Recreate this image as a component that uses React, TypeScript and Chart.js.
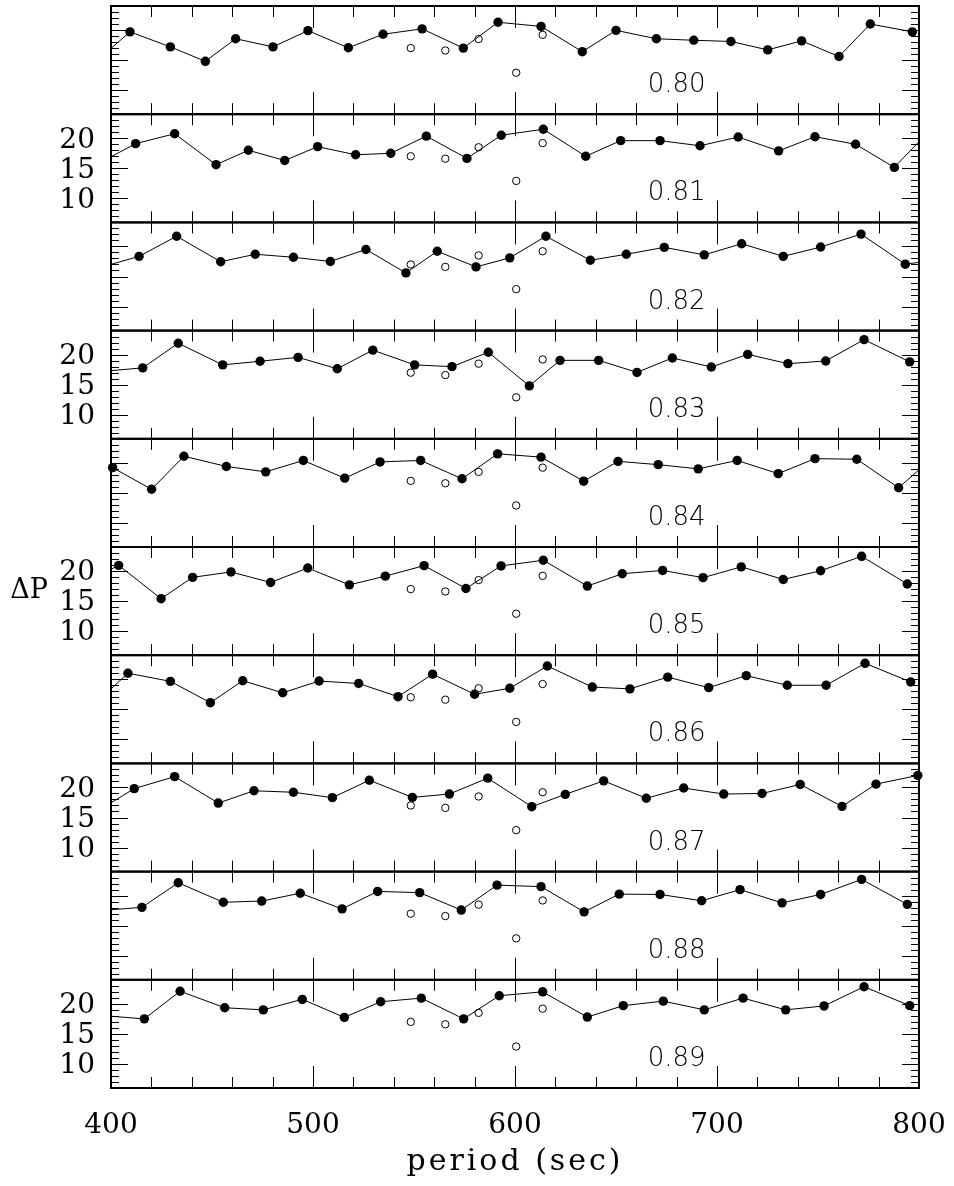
import React, { useEffect, useRef } from 'react';
import { Chart, registerables } from 'chart.js';

Chart.register(...registerables);

// Stellar mass of each panel, top to bottom
const MASSES = ['0.80', '0.81', '0.82', '0.83', '0.84', '0.85', '0.86', '0.87', '0.88', '0.89'];

// Shared axes
const PERIOD_MIN = 400;
const PERIOD_MAX = 800;
const PERIOD_STEP = 100;
const DP_MIN = 6;
const DP_MAX = 24;
const DP_LABELS = [10, 15, 20];

// Observed period spacings (open circles), repeated in every panel
const OBS_PERIOD = [548.4, 565.5, 582.0, 600.6, 613.7];
const OBS_DP = [17.0, 16.6, 18.5, 12.9, 19.2];

// Model period spacings [period (sec), ΔP] for each mass
const M080: [number, number][] = [[392, 14.6], [409.4, 19.7], [429.4, 17.2], [446.7, 14.8], [461.7, 18.55], [480.2, 17.2], [497.5, 19.9], [517.5, 17.05], [534.7, 19.3], [554, 20.2], [574.4, 17.0], [591.6, 21.3], [612.9, 20.6], [633.3, 16.4], [650, 19.95], [670, 18.55], [688.5, 18.3], [706.9, 18.1], [725.1, 16.7], [741.9, 18.2], [760.4, 15.6], [775.9, 21.0], [796.7, 19.7]];
const M081: [number, number][] = [[392, 15.5], [412.2, 19.1], [431.5, 20.75], [452, 15.6], [468, 18.0], [486, 16.3], [502.3, 18.6], [521.1, 17.25], [538.5, 17.5], [556.1, 20.35], [576.2, 16.65], [593.2, 20.5], [614, 21.5], [635, 17.0], [652.3, 19.6], [671.8, 19.6], [691.6, 18.75], [710.5, 20.2], [730.5, 17.9], [748.5, 20.25], [768.6, 19.0], [787.8, 15.15], [805, 21.2]];
const M082: [number, number][] = [[392, 16.25], [413.9, 18.35], [432.5, 21.7], [454.3, 17.45], [471.4, 18.7], [490.3, 18.2], [508.6, 17.5], [526.2, 19.5], [546, 15.6], [561.5, 19.2], [580.7, 16.6], [597.4, 18.1], [615.3, 21.7], [637.3, 17.7], [655.1, 18.7], [673.9, 19.85], [693.7, 18.6], [712.2, 20.45], [732.8, 18.35], [751.3, 19.9], [771.3, 22.05], [793.2, 17.05], [810, 17.8]];
const M083: [number, number][] = [[392, 17.1], [415.7, 17.8], [433.3, 21.9], [455.3, 18.3], [473.8, 18.9], [492.6, 19.55], [512, 17.65], [529.6, 20.75], [550.3, 18.3], [568.8, 18.0], [586.8, 20.4], [607.1, 14.8], [622.3, 19.05], [641.4, 19.05], [660.4, 17.05], [677.9, 19.45], [697.2, 17.95], [715.2, 20.05], [735.1, 18.5], [753.8, 18.95], [772.8, 22.5], [795.4, 18.8]];
const M084: [number, number][] = [[400.8, 19.2], [420.1, 15.6], [436.1, 21.1], [457.1, 19.4], [476.6, 18.5], [495.2, 20.4], [515.7, 17.45], [533.2, 20.15], [553.3, 20.4], [573.8, 17.35], [591.4, 21.5], [612.9, 20.95], [634, 16.95], [651, 20.25], [670.9, 19.7], [690.7, 19.0], [710, 20.4], [730.3, 18.2], [748.5, 20.7], [769.2, 20.6], [789.9, 15.85], [805, 20.3]];
const M085: [number, number][] = [[392, 18.9], [403.8, 20.95], [424.8, 15.4], [440.4, 18.95], [459.4, 19.85], [479, 18.1], [497.4, 20.5], [518, 17.7], [535.8, 19.15], [555, 20.9], [575.7, 17.1], [593.1, 20.85], [614, 21.8], [635.8, 17.5], [653.1, 19.55], [673.1, 20.1], [693.1, 18.9], [712, 20.7], [732.8, 18.6], [751.3, 20.05], [771.6, 22.45], [794.2, 17.85]];
const M086: [number, number][] = [[392, 15.9], [408.4, 21.0], [429.4, 19.65], [449.2, 16.1], [465.2, 19.75], [485, 17.75], [503, 19.7], [522.6, 19.3], [542.1, 17.1], [559.2, 20.85], [580, 17.5], [597.4, 18.5], [616, 22.2], [638.3, 18.7], [656.9, 18.4], [675.6, 20.35], [695.9, 18.6], [714.5, 20.6], [734.8, 19.0], [754, 19.0], [773.3, 22.65], [795.9, 19.55]];
const M087: [number, number][] = [[392, 15.8], [411.5, 19.8], [431.5, 21.8], [453.1, 17.4], [470.8, 19.45], [490.3, 19.2], [509.6, 18.3], [527.9, 21.2], [549.2, 18.35], [567.5, 18.9], [586.5, 21.55], [608.3, 16.8], [624.9, 18.85], [643.9, 21.1], [665, 18.2], [683.5, 19.9], [703.3, 18.9], [722.3, 19.0], [741.2, 20.5], [761.9, 16.85], [778.7, 20.55], [799.4, 22.0]];
const M088: [number, number][] = [[392, 17.45], [415.3, 18.05], [433.3, 22.15], [455.6, 18.9], [474.6, 19.1], [493.7, 20.4], [514.4, 17.8], [532, 20.7], [552.8, 20.5], [573.4, 17.6], [591.1, 21.75], [612.9, 21.5], [634.2, 17.3], [651.6, 20.25], [671.8, 20.2], [692.4, 19.15], [711.4, 21.0], [732.2, 18.8], [751.3, 20.2], [771.6, 22.7], [794.2, 18.55]];
const M089: [number, number][] = [[392, 18.15], [416.5, 17.5], [434.2, 22.1], [456.3, 19.35], [475.4, 19.0], [494.7, 20.75], [515.5, 17.75], [533.5, 20.35], [553.6, 20.95], [574.6, 17.5], [592.2, 21.35], [613.7, 22.0], [635.8, 17.8], [653.6, 19.7], [673.4, 20.45], [693.7, 19.0], [712.9, 20.95], [734, 19.0], [753, 19.65], [772.8, 22.85], [795.4, 19.7]];

const SEQUENCES = [M080, M081, M082, M083, M084, M085, M086, M087, M088, M089];

const SERIF = '"DejaVu Serif", "Liberation Serif", serif';
const INK = '#000';

function massOf(k: number) {
  return MASSES[k];
}

// Tick labels may overhang the plot area; keep the plot box fixed instead.
function noOverhang(scale: any) {
  scale.paddingLeft = 0;
  scale.paddingRight = 0;
  scale.paddingTop = 0;
  scale.paddingBottom = 0;
}

// Frames, inward tick marks, mass labels and axis captions for the stacked panels
const panelDecor = {
  id: 'panelDecor',
  afterDatasetsDraw(chart: any) {
    const ctx = chart.ctx as CanvasRenderingContext2D;
    const xs = chart.scales.x;
    const { left, right } = chart.chartArea;
    ctx.save();
    MASSES.forEach((mass, k) => {
      const ys = chart.scales['y' + k];
      const top = ys.top;
      const bottom = ys.bottom;
      ctx.strokeStyle = INK;
      ctx.lineWidth = 1;
      ctx.beginPath();
      for (let v = PERIOD_MIN + 20; v < PERIOD_MAX; v += 20) {
        const px = Math.round(xs.getPixelForValue(v)) + 0.5;
        const len = v % PERIOD_STEP === 0 ? 22 : 11;
        ctx.moveTo(px, top);
        ctx.lineTo(px, top + len);
        ctx.moveTo(px, bottom);
        ctx.lineTo(px, bottom - len);
      }
      for (let v = DP_MIN + 1; v < DP_MAX; v += 1) {
        const py = Math.round(ys.getPixelForValue(v)) + 0.5;
        const len = v % 5 === 0 ? 17 : 8;
        ctx.moveTo(left, py);
        ctx.lineTo(left + len, py);
        ctx.moveTo(right, py);
        ctx.lineTo(right - len, py);
      }
      ctx.stroke();
      ctx.lineWidth = 2;
      ctx.strokeRect(left, top, right - left, bottom - top);

      ctx.fillStyle = INK;
      ctx.font = '200 26px "DejaVu Sans", sans-serif';
      ctx.textAlign = 'left';
      ctx.textBaseline = 'alphabetic';
      ctx.fillText(mass, xs.getPixelForValue(665.7), bottom - 22);
    });

    ctx.fillStyle = INK;
    ctx.textAlign = 'center';
    ctx.textBaseline = 'middle';
    ctx.font = '27px ' + SERIF;
    ctx.fillText('ΔP', 29, 591);

    ctx.textBaseline = 'alphabetic';
    ctx.font = '30px ' + SERIF;
    (ctx as any).letterSpacing = '3px';
    ctx.fillText('period (sec)', (left + right) / 2, 1170);
    ctx.restore();
  },
};

export default function App() {
  const canvasRef = useRef<HTMLCanvasElement | null>(null);

  useEffect(() => {
    const canvas = canvasRef.current;
    if (!canvas) return;

    const scales: any = {
      x: {
        type: 'linear',
        position: 'bottom',
        min: PERIOD_MIN,
        max: PERIOD_MAX,
        grid: { display: false, drawTicks: false },
        border: { display: false },
        ticks: {
          stepSize: PERIOD_STEP,
          padding: 21,
          color: INK,
          autoSkip: false,
          font: { family: SERIF, size: 28 },
          maxRotation: 0,
        },
        afterFit(scale: any) {
          scale.height = 98;
          noOverhang(scale);
        },
      },
    };

    const datasets: any[] = [];
    SEQUENCES.forEach((seq, k) => {
      const id = 'y' + k;
      scales[id] = {
        type: 'linear',
        position: 'left',
        stack: 'panels',
        stackWeight: 1,
        weight: MASSES.length - k,
        min: DP_MIN,
        max: DP_MAX,
        grid: { display: false, drawTicks: false },
        border: { display: false },
        ticks: {
          display: k % 2 === 1,
          autoSkip: false,
          padding: 16,
          labelOffset: 2,
          color: INK,
          font: { family: SERIF, size: 28 },
        },
        afterBuildTicks(scale: any) {
          scale.ticks = DP_LABELS.map((value) => ({ value }));
        },
        afterFit(scale: any) {
          scale.width = 111;
          noOverhang(scale);
        },
      };

      const all = seq.map(([x, y]) => ({ x, y }));
      const inside = all.filter((p) => p.x >= PERIOD_MIN && p.x <= PERIOD_MAX);

      datasets.push({
        label: massOf(k) + ' line',
        data: all,
        yAxisID: id,
        showLine: true,
        borderColor: INK,
        borderWidth: 1,
        pointRadius: 0,
        fill: false,
        order: 2,
      });
      datasets.push({
        label: massOf(k) + ' model',
        data: inside,
        yAxisID: id,
        showLine: false,
        pointRadius: 4.7,
        pointBackgroundColor: INK,
        pointBorderColor: INK,
        pointBorderWidth: 0,
        clip: false,
        order: 0,
      });
      datasets.push({
        label: massOf(k) + ' observed',
        data: OBS_PERIOD.map((x, i) => ({ x, y: OBS_DP[i] })),
        yAxisID: id,
        showLine: false,
        pointRadius: 3.7,
        pointBackgroundColor: 'rgba(0,0,0,0)',
        pointBorderColor: INK,
        pointBorderWidth: 1,
        clip: false,
        order: 1,
      });
    });

    const chart = new Chart(canvas, {
      type: 'scatter',
      data: { datasets },
      options: {
        animation: false,
        responsive: false,
        events: [],
        layout: { autoPadding: false, padding: { left: 0, right: 35, top: 6, bottom: 0 } },
        plugins: {
          legend: { display: false },
          tooltip: { enabled: false },
          title: { display: false },
        },
        scales,
      },
      plugins: [panelDecor],
    });

    return () => chart.destroy();
  }, []);

  return (
    <div style={{ position: 'absolute', left: 0, top: 0, width: 954, height: 1186, background: '#fff' }}>
      <canvas ref={canvasRef} width={954} height={1186} style={{ display: 'block' }} />
    </div>
  );
}
